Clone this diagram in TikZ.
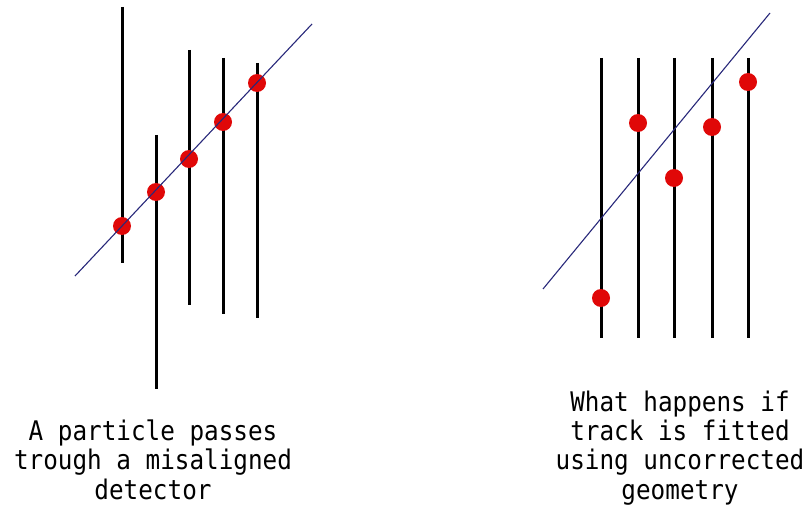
\documentclass[tikz,border=0pt]{standalone}
\usepackage{fontspec}
\newfontfamily\capfont[FakeStretch=0.9]{DejaVu Sans Mono}
\definecolor{trackblue}{HTML}{28287A}
\definecolor{hitred}{HTML}{E00808}
\begin{document}
\begin{tikzpicture}[x=1pt,y=-1pt,
  plane/.style={line width=3pt, black},
  track/.style={line width=1.1pt, trackblue},
  hit/.style={circle, fill=hitred, inner sep=0pt, minimum size=18pt},
  caption/.style={font=\capfont\fontsize{27}{29.3}\selectfont, align=center, inner sep=0pt, anchor=base}]
\useasboundingbox (0,0) rectangle (811,508);

% ---- misaligned detector: planes shifted, hits on the true track ----
\foreach \i/\x/\t/\b in {1/122/7/263, 2/156/135/389, 3/189/50/305, 4/223/58/314, 5/257/63/318}{
  \coordinate (lt\i) at (\x,\t);
  \coordinate (lb\i) at (\x,\b);
  \draw[plane] (lt\i) -- (lb\i);
}
\coordinate (ltrackA) at (75,276);
\coordinate (ltrackB) at (312,24);
\foreach \i/\x/\y in {1/122/226, 2/156/192, 3/189/159, 4/223/122, 5/257/83}{
  \node[hit] (lh\i) at (\x,\y) {};
}
\draw[track] (ltrackA) -- (ltrackB);

% ---- nominal geometry: hits scattered around the fitted track ----
\foreach \i/\x in {1/601, 2/638, 3/674, 4/712, 5/748}{
  \coordinate (rt\i) at (\x,58);
  \coordinate (rb\i) at (\x,338);
  \draw[plane] (rt\i) -- (rb\i);
}
\coordinate (rtrackA) at (543,289);
\coordinate (rtrackB) at (770,13);
\draw[track] (rtrackA) -- (rtrackB);
\foreach \i/\x/\y in {1/601/298, 2/638/123, 3/674/178, 4/712/127, 5/748/82}{
  \node[hit] (rh\i) at (\x,\y) {};
}

% ---- captions (base anchor sits on the last line) ----
\node[caption] (capL) at (153,499) {A particle passes\\trough a misaligned\\detector};
\node[caption] (capR) at (680,499) {What happens if\\track is fitted\\using uncorrected\\geometry};
\end{tikzpicture}
\end{document}
